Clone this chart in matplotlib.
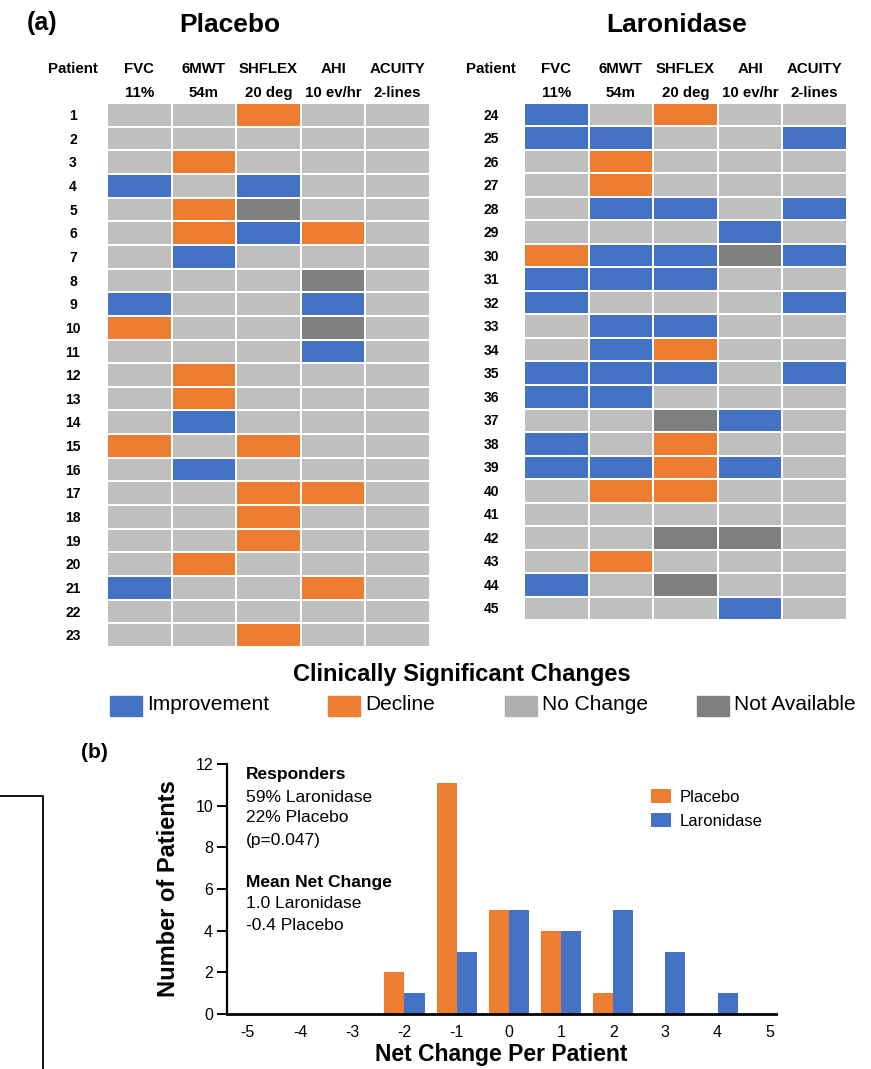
import matplotlib
matplotlib.use("Agg")
import matplotlib.pyplot as plt
import matplotlib.transforms as mtrans
import numpy as np
from matplotlib.colors import ListedColormap
from matplotlib.patches import Rectangle
from matplotlib.lines import Line2D

plt.rcParams['font.family'] = ['Liberation Sans', 'DejaVu Sans']

# ---------------- data ----------------
measures = ["FVC", "6MWT", "SHFLEX", "AHI", "ACUITY"]
thresholds = ["11%", "54m", "20 deg", "10 ev/hr", "2-lines"]

# N = no change, I = improvement, D = decline, X = not available
placebo_ids = list(range(1, 24))
placebo_rows = [
    "NNDNN", "NNNNN", "NDNNN", "ININN", "NDXNN", "NDIDN", "NINNN", "NNNXN",
    "INNIN", "DNNXN", "NNNIN", "NDNNN", "NDNNN", "NINNN", "DNDNN", "NINNN",
    "NNDDN", "NNDNN", "NNDNN", "NDNNN", "INNDN", "NNNNN", "NNDNN",
]
laron_ids = list(range(24, 46))
laron_rows = [
    "INDNN", "IINNI", "NDNNN", "NDNNN", "NIINI", "NNNIN", "DIIXI", "IIINN",
    "INNNI", "NIINN", "NIDNN", "IIINI", "IINNN", "NNXIN", "INDNN", "IIDIN",
    "NDDNN", "NNNNN", "NNXXN", "NDNNN", "INXNN", "NNNIN",
]
legend_labels = ["Improvement", "Decline", "No Change", "Not Available"]

net_change = [-5, -4, -3, -2, -1, 0, 1, 2, 3, 4, 5]
placebo_counts = [0, 0, 0, 2, 11.1, 5, 4, 1, 0, 0, 0]
laron_counts = [0, 0, 0, 1, 3, 5, 4, 5, 3, 1, 0]

# ---------------- style ----------------
BLUE = "#4472C4"
ORANGE = "#ED7D31"
LGRAY = "#BFBFBF"
DGRAY = "#7F7F7F"
code_map = {"N": 0, "I": 1, "D": 2, "X": 3}
cmap = ListedColormap([LGRAY, BLUE, ORANGE, DGRAY])

W, H = 871, 1069
fig = plt.figure(figsize=(W / 100, H / 100), dpi=100)


def fx(x):
    return x / W


def fy(y):
    return 1 - y / H


def add_ax(x0, y0, x1, y1):
    return fig.add_axes([fx(x0), fy(y1), fx(x1) - fx(x0), fy(y0) - fy(y1)])


def grid_panel(x0, y0, x1, y1, rows, ids, lab_x, title, title_x):
    ax = add_ax(x0, y0, x1, y1)
    mat = np.array([[code_map[c] for c in r] for r in rows])
    n = len(rows)
    ax.pcolormesh(np.arange(6), np.arange(n + 1), mat, cmap=cmap, vmin=-0.5, vmax=3.5,
                  edgecolors="white", linewidth=1.1)
    ax.set_xlim(0, 5)
    ax.set_ylim(n, 0)
    ax.axis("off")
    tr = mtrans.blended_transform_factory(fig.transFigure, ax.transData)
    for i, pid in enumerate(ids):
        ax.text(fx(lab_x), i + 0.55, str(pid), transform=tr, fontsize=10,
                fontweight="bold", ha="center", va="center")
    trh = mtrans.blended_transform_factory(ax.transData, fig.transFigure)
    for j, (m, t) in enumerate(zip(measures, thresholds)):
        ax.text(j + 0.5, fy(69), m, transform=trh, fontsize=10.8, fontweight="bold",
                ha="center", va="center")
        ax.text(j + 0.5, fy(93), t, transform=trh, fontsize=10.8, fontweight="bold",
                ha="center", va="center")
    fig.text(fx(lab_x), fy(69), "Patient", fontsize=10.8, fontweight="bold",
             ha="center", va="center")
    fig.text(fx(title_x), fy(25), title, fontsize=19, fontweight="bold",
             ha="center", va="center")
    return ax


grid_panel(107, 103, 430, 647, placebo_rows, placebo_ids, 73, "Placebo", 230)
grid_panel(524, 103, 847, 620, laron_rows, laron_ids, 491, "Laronidase", 677)
fig.text(fx(42), fy(23), "(a)", fontsize=18, fontweight="bold", ha="center", va="center")

# legend for heatmap
fig.text(fx(462), fy(675), "Clinically Significant Changes", fontsize=17,
         fontweight="bold", ha="center", va="center")
leg_cols = [BLUE, ORANGE, "#B0B0B0", DGRAY]
sq_x = [110, 328, 505, 697]
for c, lab, sx in zip(leg_cols, legend_labels, sq_x):
    fig.patches.append(Rectangle((fx(sx), fy(716)), fx(32), 20 / H, color=c,
                                 transform=fig.transFigure, figure=fig))
    fig.text(fx(sx + 37), fy(705), lab, fontsize=15, ha="left", va="center")

# ---------------- bar chart ----------------
bx = add_ax(227, 764, 776, 1014)
xs = np.array(net_change, dtype=float)
bw = 0.385
bx.bar(xs - bw / 2, placebo_counts, width=bw, color=ORANGE, label="Placebo")
bx.bar(xs + bw / 2, laron_counts, width=bw, color=BLUE, label="Laronidase")
bx.set_xlim(-5.40, 5.12)
bx.set_ylim(0, 12)
bx.set_xticks(net_change)
bx.set_xticklabels([str(v) for v in net_change])
bx.set_yticks([0, 2, 4, 6, 8, 10, 12])
bx.spines["top"].set_visible(False)
bx.spines["right"].set_visible(False)
bx.spines["left"].set_linewidth(1.6)
bx.spines["bottom"].set_linewidth(2)
bx.tick_params(axis="x", length=0, pad=8, labelsize=11.5)
bx.tick_params(axis="y", length=7, width=1.4, labelsize=11.5, pad=3)
bx.set_ylabel("Number of Patients", fontsize=17, fontweight="bold", labelpad=11)
bx.set_xlabel("Net Change Per Patient", fontsize=16.5, fontweight="bold", labelpad=2)
leg = bx.legend(loc="upper left", bbox_to_anchor=(fx(636), fy(774)),
                bbox_transform=fig.transFigure, frameon=False, fontsize=12,
                handlelength=1.2, handleheight=0.9, handletextpad=0.5, labelspacing=0.5)

ann = [("Responders", 775, "bold"), ("59% Laronidase", 797, "normal"),
       ("22% Placebo", 818, "normal"), ("(p=0.047)", 840, "normal"),
       ("Mean Net Change", 883, "bold"), ("1.0 Laronidase", 904, "normal"),
       ("-0.4 Placebo", 926, "normal")]
for txt, yy, wt in ann:
    fig.text(fx(246), fy(yy), txt, fontsize=12.5, fontweight=wt, ha="left", va="center")
fig.text(fx(94), fy(752), "(b)", fontsize=15, fontweight="bold", ha="center", va="center")

# bracket line on the left
fig.lines.append(Line2D([0, fx(43), fx(43)], [fy(796), fy(796), 0], color="black",
                        linewidth=1.3, transform=fig.transFigure, figure=fig))

fig.savefig("out.png", dpi=100)
